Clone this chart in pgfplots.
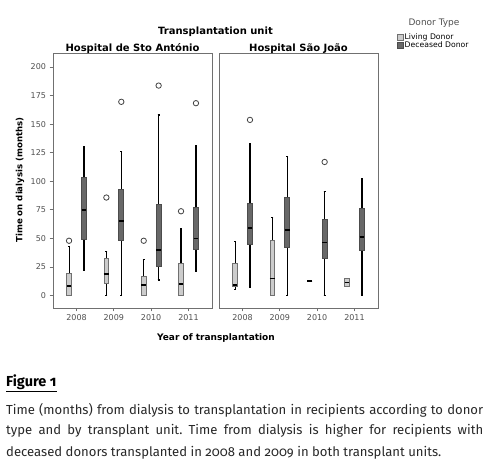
\documentclass[border=0pt]{standalone}
\usepackage{fontspec}
\setmainfont{DejaVu Sans}
\newfontfamily\capfont[Numbers=OldStyle]{Fira Sans}
\usepackage{pgfplots}
\pgfplotsset{compat=1.18}
\usepgfplotslibrary{statistics}

\definecolor{livefill}{RGB}{204,204,204}
\definecolor{decfill}{RGB}{104,104,104}
\definecolor{framegray}{RGB}{112,112,112}
\definecolor{ticktext}{RGB}{80,80,80}
\definecolor{captext}{RGB}{40,40,40}

\pgfplotsset{
  panel/.style={
    scale only axis, width=159pt, height=255pt, anchor=south west,
    xmin=0.37, xmax=4.63, ymin=-10.8, ymax=212.2,
    xtick={1,2,3,4}, xticklabels={2008,2009,2010,2011},
    axis line style={framegray, line width=0.9pt},
    tick align=outside, major tick length=3.5pt,
    tick style={framegray, line width=0.8pt},
    xtick pos=left, ytick pos=left,
    tick label style={font=\fontsize{8}{9}\selectfont, text=ticktext},
    /pgf/number format/assume math mode=true,
    boxplot/draw direction=y,
    boxplot/box extend=0.13,
    boxplot/whisker extend=0.05,
    boxplot/every median/.style={black, line width=1.8pt},
    boxplot/every whisker/.style={black, line width=1.1pt},
  },
  live/.style={fill=livefill, draw=framegray, line width=0.8pt,
    mark=o, mark size=2.7pt, mark options={framegray!60!black, line width=0.8pt, fill=white}},
  dec/.style={fill=decfill, draw=black!70, line width=0.8pt,
    mark=o, mark size=2.7pt, mark options={framegray!60!black, line width=0.8pt, fill=white}},
}

\begin{document}
\frenchspacing
\begin{tikzpicture}
\path[use as bounding box, fill=white] (0,0) rectangle (488pt,471pt);

% Hospital de Sto Antonio
\begin{axis}[panel, at={(53pt,163pt)}, ytick={0,25,...,200}]
\addplot[live, boxplot prepared={draw position=0.8, lower whisker=0, lower quartile=0, median=8.4, upper quartile=19.5, upper whisker=42.7}] coordinates {(0,48)};
\addplot[dec, boxplot prepared={draw position=1.2, lower whisker=21.8, lower quartile=49.4, median=75, upper quartile=103, upper whisker=130.4}] coordinates {};
\addplot[live, boxplot prepared={draw position=1.8, lower whisker=0, lower quartile=10.8, median=19.2, upper quartile=33, upper whisker=38.4}] coordinates {(0,85.8)};
\addplot[dec, boxplot prepared={draw position=2.2, lower whisker=0, lower quartile=48.5, median=65, upper quartile=93, upper whisker=125.7}] coordinates {(0,169.5)};
\addplot[live, boxplot prepared={draw position=2.8, lower whisker=0, lower quartile=0, median=9.6, upper quartile=16.9, upper whisker=31.7}] coordinates {(0,48)};
\addplot[dec, boxplot prepared={draw position=3.2, lower whisker=13.7, lower quartile=26, median=40, upper quartile=79.4, upper whisker=158}] coordinates {(0,183.7)};
\addplot[live, boxplot prepared={draw position=3.8, lower whisker=0, lower quartile=0, median=9.9, upper quartile=28.2, upper whisker=59}] coordinates {(0,73.8)};
\addplot[dec, boxplot prepared={draw position=4.2, lower whisker=21.5, lower quartile=40.7, median=50, upper quartile=77, upper whisker=131.6}] coordinates {(0,168.3)};
\end{axis}

% Hospital Sao Joao
\begin{axis}[panel, at={(219pt,163pt)}, ytick=\empty]
\addplot[live, boxplot prepared={draw position=0.8, lower whisker=5.5, lower quartile=7.8, median=9, upper quartile=28.2, upper whisker=47}] coordinates {};
\addplot[dec, boxplot prepared={draw position=1.2, lower whisker=7.3, lower quartile=44.8, median=59, upper quartile=80.5, upper whisker=132.7}] coordinates {(0,153.7)};
\addplot[live, boxplot prepared={draw position=1.8, lower whisker=0, lower quartile=0, median=15, upper quartile=48.5, upper whisker=68}] coordinates {};
\addplot[dec, boxplot prepared={draw position=2.2, lower whisker=0, lower quartile=42, median=57.6, upper quartile=86.3, upper whisker=122}] coordinates {};
\addplot[live, boxplot prepared={draw position=2.8, lower whisker=12.8, lower quartile=12.8, median=12.8, upper quartile=12.8, upper whisker=12.8}] coordinates {};
\addplot[dec, boxplot prepared={draw position=3.2, lower whisker=0, lower quartile=33, median=46.5, upper quartile=66.6, upper whisker=91}] coordinates {(0,116.9)};
\addplot[live, boxplot prepared={draw position=3.8, lower whisker=8.5, lower quartile=8.5, median=11.5, upper quartile=15, upper whisker=15}] coordinates {};
\addplot[dec, boxplot prepared={draw position=4.2, lower whisker=0, lower quartile=39.8, median=51.5, upper quartile=76, upper whisker=102}] coordinates {};
\end{axis}

% titles and labels
\node[anchor=base, font=\fontsize{10}{12}\selectfont\bfseries] at (215.5pt,436pt) {Transplantation unit};
\node[anchor=base, font=\fontsize{10}{12}\selectfont\bfseries] at (132.5pt,419.5pt) {Hospital de Sto António};
\node[anchor=base, font=\fontsize{10}{12}\selectfont\bfseries] at (298.5pt,419.5pt) {Hospital São João};
\node[rotate=90, font=\fontsize{8.6}{10}\selectfont\bfseries] at (20pt,291pt) {Time on dialysis (months)};
\node[anchor=base, font=\fontsize{9}{11}\selectfont\bfseries] at (216pt,130.3pt) {Year of transplantation};

% legend
\node[anchor=base, font=\fontsize{9}{11}\selectfont, text=ticktext] at (434pt,445pt) {Donor Type};
\filldraw[fill=livefill, draw=framegray, line width=0.7pt] (397pt,431pt) rectangle (403pt,436.5pt);
\filldraw[fill=decfill, draw=black!70, line width=0.7pt] (397pt,423pt) rectangle (403pt,428.5pt);
\node[anchor=base west, inner sep=0pt, font=\fontsize{7.7}{9}\selectfont] at (404.5pt,431pt) {Living Donor};
\node[anchor=base west, inner sep=0pt, font=\fontsize{7.7}{9}\selectfont] at (404.5pt,423pt) {Deceased Donor};

% caption
\node[anchor=base west, inner sep=0pt, font=\capfont\fontsize{14.5}{17}\selectfont\bfseries] at (6pt,84.3pt) {Figure 1};
\draw[black, line width=1.4pt] (6pt,79.3pt) -- (57pt,79.3pt);
\node[anchor=base west, inner sep=0pt, text=captext, font=\capfont\fontsize{13.1}{16}\selectfont] at (6pt,56pt) {\makebox[477pt][s]{Time (months) from dialysis to transplantation in recipients according to donor}};
\node[anchor=base west, inner sep=0pt, text=captext, font=\capfont\fontsize{13.1}{16}\selectfont] at (6pt,36pt) {\makebox[477pt][s]{type and by transplant unit. Time from dialysis is higher for recipients with}};
\node[anchor=base west, inner sep=0pt, text=captext, font=\capfont\fontsize{13.1}{16}\selectfont] at (6pt,14pt) {deceased donors transplanted in 2008 and 2009 in both transplant units.};
\end{tikzpicture}
\end{document}
